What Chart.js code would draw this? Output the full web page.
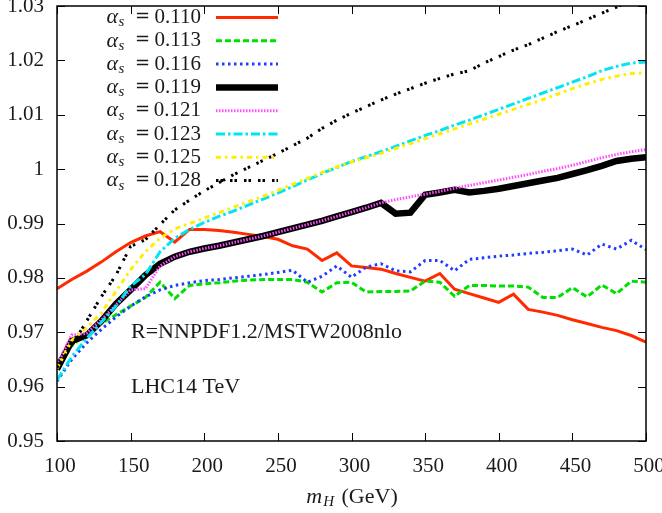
<!DOCTYPE html>
<html>
<head>
<meta charset="utf-8">
<script src="https://cdn.jsdelivr.net/npm/chart.js@4"></script>
<style>
  html, body { margin: 0; padding: 0; background: #fff; }
  #wrap { width: 662px; height: 513px; }
</style>
</head>
<body>
<div id="wrap"><canvas id="ratioChart"></canvas></div>
<script>
// Higgs mass points (GeV)
const mH = [100, 110, 120, 130, 140, 150, 160, 170, 180, 190, 200, 210, 220, 230, 240, 250,
  260, 270, 280, 290, 300, 310, 320, 330, 340, 350, 360, 370, 380, 390, 400, 410, 420, 430,
  440, 450, 460, 470, 480, 490, 500];

const as110 = [0.9780, 0.9797, 0.9812, 0.9829, 0.9848, 0.9865, 0.9877, 0.9885, 0.9866, 0.9889,
  0.9889, 0.9887, 0.9884, 0.9880, 0.9876, 0.9871, 0.9859, 0.9853, 0.9832, 0.9846, 0.9822,
  0.9819, 0.9816, 0.9808, 0.9801, 0.9794, 0.9808, 0.9779, 0.9771, 0.9763, 0.9755, 0.9770,
  0.9742, 0.9737, 0.9731, 0.9723, 0.9716, 0.9709, 0.9703, 0.9694, 0.9682];

const as113 = [0.9645, 0.9675, 0.9698, 0.9716, 0.9732, 0.9748, 0.9764, 0.9792, 0.9762, 0.9786,
  0.9789, 0.9791, 0.9794, 0.9796, 0.9797, 0.9797, 0.9797, 0.9792, 0.9774, 0.9791, 0.9792,
  0.9774, 0.9775, 0.9775, 0.9776, 0.9794, 0.9792, 0.9766, 0.9786, 0.9786, 0.9785, 0.9785,
  0.9783, 0.9764, 0.9764, 0.9782, 0.9765, 0.9787, 0.9771, 0.9794, 0.9792];

const as116 = [0.9610, 0.9650, 0.9680, 0.9705, 0.9728, 0.9748, 0.9765, 0.9778, 0.9786, 0.9791,
  0.9795, 0.9797, 0.9800, 0.9803, 0.9806, 0.9810, 0.9814, 0.9792, 0.9803, 0.9822, 0.9801,
  0.9820, 0.9826, 0.9813, 0.9811, 0.9832, 0.9832, 0.9813, 0.9834, 0.9837, 0.9840, 0.9842,
  0.9845, 0.9847, 0.9850, 0.9853, 0.9842, 0.9862, 0.9853, 0.9869, 0.9852];

const as119 = [0.9632, 0.9684, 0.9694, 0.9720, 0.9752, 0.9778, 0.9805, 0.9826, 0.9839, 0.9848,
  0.9854, 0.9859, 0.9865, 0.9871, 0.9877, 0.9884, 0.9891, 0.9898, 0.9905, 0.9913, 0.9921,
  0.9929, 0.9938, 0.9918, 0.9920, 0.9953, 0.9957, 0.9962, 0.9957, 0.9960, 0.9964, 0.9969,
  0.9974, 0.9979, 0.9984, 0.9991, 0.9998, 1.0006, 1.0015, 1.0019, 1.0022];

const as121 = [0.9640, 0.9695, 0.9698, 0.9722, 0.9750, 0.9778, 0.9780, 0.9822, 0.9839, 0.9848,
  0.9854, 0.9859, 0.9865, 0.9871, 0.9877, 0.9884, 0.9891, 0.9898, 0.9905, 0.9913, 0.9921,
  0.9929, 0.9938, 0.9944, 0.9949, 0.9954, 0.9959, 0.9965, 0.9970, 0.9975, 0.9980, 0.9985,
  0.9990, 0.9996, 1.0001, 1.0007, 1.0014, 1.0021, 1.0027, 1.0032, 1.0036];

const as123 = [0.9612, 0.9655, 0.9688, 0.9718, 0.9748, 0.9785, 0.9806, 0.9848, 0.9873, 0.9889,
  0.9902, 0.9913, 0.9923, 0.9934, 0.9945, 0.9956, 0.9968, 0.9980, 0.9992, 1.0003, 1.0014,
  1.0023, 1.0032, 1.0042, 1.0052, 1.0062, 1.0071, 1.0081, 1.0090, 1.0100, 1.0110, 1.0120,
  1.0130, 1.0140, 1.0150, 1.0160, 1.0170, 1.0181, 1.0189, 1.0195, 1.0197];

const as125 = [0.9633, 0.9685, 0.9708, 0.9735, 0.9775, 0.9815, 0.9848, 0.9873, 0.9890, 0.9900,
  0.9910, 0.9920, 0.9930, 0.9940, 0.9950, 0.9961, 0.9972, 0.9983, 0.9994, 1.0004, 1.0013,
  1.0021, 1.0029, 1.0038, 1.0047, 1.0056, 1.0065, 1.0074, 1.0083, 1.0092, 1.0101, 1.0110,
  1.0119, 1.0128, 1.0138, 1.0148, 1.0157, 1.0165, 1.0171, 1.0176, 1.0177];

const as128 = [0.9635, 0.9675, 0.9720, 0.9765, 0.9805, 0.9858, 0.9870, 0.9898, 0.9925, 0.9943,
  0.9960, 0.9975, 0.9990, 1.0003, 1.0016, 1.0029, 1.0043, 1.0057, 1.0075, 1.0090, 1.0103,
  1.0115, 1.0127, 1.0138, 1.0148, 1.0158, 1.0167, 1.0175, 1.0181, 1.0195, 1.0207, 1.0219,
  1.0229, 1.0241, 1.0253, 1.0264, 1.0275, 1.0287, 1.0298, 1.0310, 1.0320];

const alphaLabels = ['0.110', '0.113', '0.116', '0.119', '0.121', '0.123', '0.125', '0.128'];
const xTicks = [100, 150, 200, 250, 300, 350, 400, 450, 500];
const yTicks = [0.95, 0.96, 0.97, 0.98, 0.99, 1.00, 1.01, 1.02, 1.03];

const FONT = '"Liberation Serif", "DejaVu Serif", serif';
const INK = '#1a1a1a';

// line styles, same order as alphaLabels
const STYLES = [
  { color: '#ff2a00', width: 3,   dash: [] },
  { color: '#00e000', width: 3,   dash: [6, 3] },
  { color: '#1f3dff', width: 3,   dash: [2.5, 3.5] },
  { color: '#000000', width: 6.5, dash: [] },
  { color: '#ff4cff', width: 3,   dash: [1.5, 1.5] },
  { color: '#00e5f0', width: 3,   dash: [9, 3, 2.5, 3] },
  { color: '#ffee00', width: 3,   dash: [5, 4, 2.5, 4] },
  { color: '#000000', width: 3,   dash: [2.5, 2, 2.5, 7] },
];

const series = [as110, as113, as116, as119, as121, as123, as125, as128];

const datasets = series.map((vals, i) => ({
  label: 'αs = ' + alphaLabels[i],
  data: vals.map((v, k) => ({ x: mH[k], y: v })),
  borderColor: STYLES[i].color,
  borderWidth: STYLES[i].width,
  borderDash: STYLES[i].dash,
  pointRadius: 0,
  tension: 0,
  fill: false,
  clip: 0,
  order: series.length - i,   // later curves on top, like gnuplot
}));

/* ---- frame, inward ticks, key and labels ---- */
const decorations = {
  id: 'decorations',
  afterDatasetsDraw(chart) {
    const { ctx, chartArea: a, scales } = chart;
    ctx.save();
    ctx.setLineDash([]);
    ctx.strokeStyle = '#000';
    ctx.lineWidth = 1.5;
    ctx.strokeRect(a.left, a.top, a.right - a.left, a.bottom - a.top);

    ctx.lineWidth = 1;
    ctx.beginPath();
    xTicks.forEach(v => {
      const px = Math.round(scales.x.getPixelForValue(v)) + 0.5;
      ctx.moveTo(px, a.bottom); ctx.lineTo(px, a.bottom - 8);
      ctx.moveTo(px, a.top);    ctx.lineTo(px, a.top + 8);
    });
    yTicks.forEach(v => {
      const py = Math.round(scales.y.getPixelForValue(v)) + 0.5;
      ctx.moveTo(a.left, py);  ctx.lineTo(a.left + 8, py);
      ctx.moveTo(a.right, py); ctx.lineTo(a.right - 8, py);
    });
    ctx.stroke();

    // key: "α_s = value", laid out like the TeX labels
    ctx.fillStyle = INK;
    ctx.textBaseline = 'middle';
    alphaLabels.forEach((lab, i) => {
      const y = 17.5 + i * 23.3;
      ctx.textAlign = 'right';
      ctx.font = `21px ${FONT}`;
      ctx.fillText(lab, 201, y);
      ctx.textAlign = 'center';
      ctx.font = `18px "DejaVu Serif", serif`;
      ctx.fillText('=', 142.5, y);
      ctx.textAlign = 'left';
      ctx.font = `italic 15px ${FONT}`;
      ctx.fillText('s', 118.5, y + 5);
      ctx.textAlign = 'right';
      ctx.font = `italic 22px ${FONT}`;
      ctx.fillText('α', 118, y);

      const st = STYLES[i];
      ctx.strokeStyle = st.color;
      ctx.lineWidth = st.width;
      ctx.setLineDash(st.dash);
      ctx.beginPath();
      ctx.moveTo(216, y); ctx.lineTo(278, y);
      ctx.stroke();
      ctx.setLineDash([]);
    });

    // annotations
    ctx.fillStyle = INK;
    ctx.textAlign = 'left';
    ctx.font = `22px ${FONT}`;
    ctx.fillText('R=NNPDF1.2/MSTW2008nlo', 131, 332);
    ctx.fillText('LHC14 TeV', 131, 387);

    // x axis title: m_H (GeV)
    const ty = 497;
    ctx.font = `italic 22px ${FONT}`;
    const wm = ctx.measureText('m').width;
    ctx.font = `italic 15px ${FONT}`;
    const wH = ctx.measureText('H').width;
    ctx.font = `22px ${FONT}`;
    const wG = ctx.measureText(' (GeV)').width;
    const x0 = 352 - (wm + wH + 3 + wG) / 2;
    ctx.font = `italic 22px ${FONT}`;
    ctx.fillText('m', x0, ty);
    ctx.font = `italic 15px ${FONT}`;
    ctx.fillText('H', x0 + wm + 1, ty + 5);
    ctx.font = `22px ${FONT}`;
    ctx.fillText(' (GeV)', x0 + wm + wH + 3, ty);
    ctx.restore();
  }
};

new Chart(document.getElementById('ratioChart'), {
  type: 'line',
  data: { datasets },
  options: {
    responsive: true,
    maintainAspectRatio: false,
    animation: false,
    layout: { padding: { top: 6, right: 16, left: 0, bottom: 0 } },
    plugins: {
      legend: { display: false },
      tooltip: { enabled: false },
    },
    scales: {
      x: {
        type: 'linear',
        min: 100,
        max: 500,
        afterFit: s => { s.height = 72; s.paddingLeft = 0; s.paddingRight = 0; },
        afterBuildTicks: s => { s.ticks = xTicks.map(v => ({ value: v })); },
        grid: { display: false, drawTicks: false },
        border: { display: false },
        ticks: {
          color: INK,
          padding: 13,
          labelOffset: 3,
          maxRotation: 0,
          font: { size: 21, family: FONT },
        },
      },
      y: {
        min: 0.95,
        max: 1.03,
        afterFit: s => { s.width = 57; s.paddingTop = 0; s.paddingBottom = 0; },
        afterBuildTicks: s => { s.ticks = yTicks.map(v => ({ value: v })); },
        grid: { display: false, drawTicks: false },
        border: { display: false },
        ticks: {
          color: INK,
          padding: 13,
          font: { size: 21, family: FONT },
          callback: v => String(parseFloat(Number(v).toFixed(2))),
        },
      },
    },
  },
  plugins: [decorations],
});
</script>
</body>
</html>
